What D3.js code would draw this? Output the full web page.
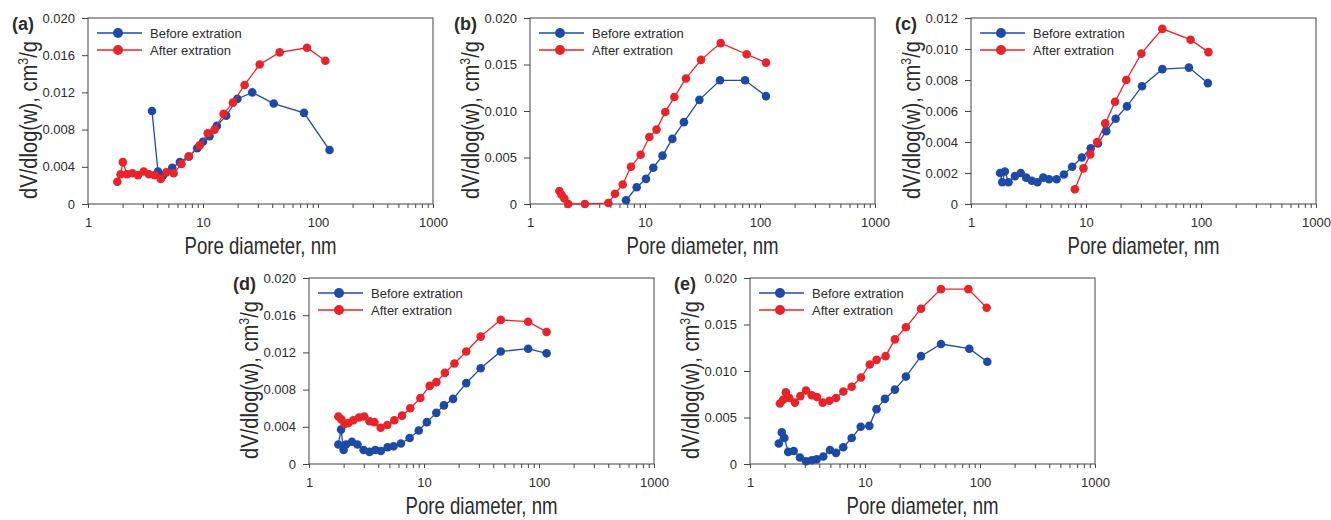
<!DOCTYPE html>
<html>
<head>
<meta charset="utf-8">
<script src="https://cdn.jsdelivr.net/npm/d3@7"></script>
<style>
  body { margin: 0; background: #fff; }
  svg { display: block; font-family: Arial, "Liberation Sans", sans-serif; }
</style>
</head>
<body>
<svg id="chart" width="1331" height="520"></svg>
<script>
// pore diameter (nm) and dV/dlog(w) (cm3/g)
const aBeforeD = [3.6, 4.06, 4.5, 5.4, 6.3, 7.5, 8.9, 10.0, 11.4, 13.2, 15.9, 19.9, 26.8, 41.2, 75.5, 126];
const aBeforeV = [0.0100, 0.0035, 0.0031, 0.0039, 0.0045, 0.0051, 0.0060, 0.0067, 0.0073, 0.0084, 0.0095, 0.0113, 0.0120, 0.0108, 0.0098, 0.0058];
const aAfterD = [1.8, 1.92, 2.01, 2.18, 2.43, 2.72, 3.05, 3.39, 3.8, 4.29, 4.8, 5.55, 6.5, 7.55, 9.35, 11.0, 12.6, 15.1, 18.2, 23.0, 31.1, 46.4, 80.2, 115.8];
const aAfterV = [0.0024, 0.0032, 0.0045, 0.0032, 0.0033, 0.0031, 0.0035, 0.0032, 0.0031, 0.0027, 0.0034, 0.0033, 0.0043, 0.0051, 0.0063, 0.0076, 0.0080, 0.0097, 0.0109, 0.0128, 0.0150, 0.0163, 0.0168, 0.0154];

const bBeforeD = [6.84, 8.47, 10.2, 11.8, 14.2, 17.3, 21.8, 29.7, 44.9, 74.1, 112.7];
const bBeforeV = [0.0004, 0.0018, 0.0027, 0.0039, 0.0052, 0.0070, 0.0088, 0.0112, 0.0133, 0.0133, 0.0116];
const bAfterD = [1.8, 1.88, 1.99, 2.15, 3.0, 4.8, 5.48, 6.4, 7.55, 9.17, 10.9, 12.6, 15.0, 18.0, 22.7, 30.7, 45.5, 76.6, 112.7];
const bAfterV = [0.0014, 0.0010, 0.0006, 0, 0, 0.0001, 0.0011, 0.0021, 0.0040, 0.0053, 0.0072, 0.0080, 0.0099, 0.0115, 0.0135, 0.0155, 0.0173, 0.0161, 0.0152];

const cBeforeD = [1.79, 1.87, 1.97, 2.12, 2.41, 2.71, 3.02, 3.38, 3.78, 4.25, 4.77, 5.55, 6.43, 7.58, 9.2, 11.0, 12.7, 15.0, 18.1, 22.7, 30.7, 46.1, 78.5, 114.7];
const cBeforeV = [0.0020, 0.0014, 0.0021, 0.0014, 0.0018, 0.0020, 0.0017, 0.0015, 0.0014, 0.0017, 0.0016, 0.0016, 0.0019, 0.0024, 0.0030, 0.0036, 0.0039, 0.0047, 0.0055, 0.0063, 0.0076, 0.0087, 0.0088, 0.0078];
const cAfterD = [8.0, 9.5, 10.9, 12.5, 14.7, 17.9, 22.4, 30.3, 46.1, 81.2, 116];
const cAfterV = [0.00095, 0.0023, 0.0032, 0.0040, 0.0052, 0.0066, 0.0080, 0.0097, 0.0113, 0.0106, 0.0098];

const dBeforeD = [1.8, 1.9, 2.0, 2.1, 2.36, 2.64, 2.98, 3.36, 3.77, 4.22, 4.82, 5.44, 6.3, 7.5, 9.0, 10.6, 12.8, 14.9, 17.9, 23.3, 31.1, 46.5, 80.5, 116.4];
const dBeforeV = [0.0021, 0.0037, 0.0015, 0.0021, 0.0024, 0.0021, 0.0015, 0.0013, 0.0015, 0.0014, 0.0018, 0.0019, 0.0022, 0.0028, 0.0036, 0.0045, 0.0055, 0.0063, 0.0070, 0.0087, 0.0103, 0.0121, 0.0124, 0.0119];
const dAfterD = [1.8, 1.91, 2.04, 2.2, 2.43, 2.72, 3.02, 3.36, 3.7, 4.2, 4.8, 5.52, 6.44, 7.6, 9.3, 11.2, 12.8, 15.2, 18.4, 23.3, 31.1, 46.5, 80.5, 116.4];
const dAfterV = [0.0051, 0.0048, 0.0043, 0.0044, 0.0047, 0.0050, 0.0051, 0.0046, 0.0045, 0.0039, 0.0042, 0.0047, 0.0052, 0.0060, 0.0071, 0.0084, 0.0088, 0.0098, 0.0108, 0.0121, 0.0137, 0.0155, 0.0153, 0.0142];

const eBeforeD = [1.78, 1.89, 1.99, 2.15, 2.4, 2.72, 3.07, 3.44, 3.8, 4.34, 4.96, 5.6, 6.47, 7.66, 9.18, 10.9, 12.6, 14.9, 18.2, 22.7, 30.7, 45.8, 80.7, 115.8];
const eBeforeV = [0.0022, 0.0034, 0.0028, 0.0013, 0.0014, 0.0007, 0.0003, 0.0004, 0.0005, 0.0008, 0.0015, 0.0012, 0.0018, 0.0028, 0.0040, 0.0041, 0.0059, 0.0070, 0.0080, 0.0094, 0.0116, 0.0129, 0.0124, 0.0110];
const eAfterD = [1.82, 1.94, 2.05, 2.2, 2.46, 2.74, 3.07, 3.44, 3.82, 4.29, 4.9, 5.6, 6.48, 7.66, 9.23, 11.0, 12.6, 15.1, 18.2, 22.7, 30.7, 45.8, 79.2, 114.3];
const eAfterV = [0.0065, 0.0069, 0.0077, 0.0071, 0.0066, 0.0073, 0.0079, 0.0074, 0.0072, 0.0066, 0.0068, 0.0071, 0.0078, 0.0083, 0.0093, 0.0107, 0.0112, 0.0116, 0.0134, 0.0147, 0.0167, 0.0188, 0.0188, 0.0168];

// axis ticks
const xMajor = [1, 10, 100, 1000];
const yTicks004 = [0, 0.004, 0.008, 0.012, 0.016, 0.020];
const yTicks005 = [0, 0.005, 0.010, 0.015, 0.020];
const yTicks002 = [0, 0.002, 0.004, 0.006, 0.008, 0.010, 0.012];

const seriesNames = ["Before extration", "After extration"];
const colors = ["#1d4aa6", "#e8232a"];

const panels = [
  { label: "(a)", left: 88,  top: 18,  ymax: 0.020, ticks: yTicks004, before: [aBeforeD, aBeforeV], after: [aAfterD, aAfterV] },
  { label: "(b)", left: 530, top: 18,  ymax: 0.020, ticks: yTicks005, before: [bBeforeD, bBeforeV], after: [bAfterD, bAfterV] },
  { label: "(c)", left: 971, top: 18,  ymax: 0.012, ticks: yTicks002, before: [cBeforeD, cBeforeV], after: [cAfterD, cAfterV] },
  { label: "(d)", left: 309, top: 278, ymax: 0.020, ticks: yTicks004, before: [dBeforeD, dBeforeV], after: [dAfterD, dAfterV] },
  { label: "(e)", left: 750, top: 278, ymax: 0.020, ticks: yTicks005, before: [eBeforeD, eBeforeV], after: [eAfterD, eAfterV] }
];

const W = 345, H = 186;
const textColor = "#2b2b2b";
const svg = d3.select("#chart");

// minor + major tick positions for the log axis
const xTickVals = [];
for (let dec = 1; dec < 1000; dec *= 10) {
  for (let k = 1; k < 10; k++) xTickVals.push(dec * k);
}
xTickVals.push(1000);

panels.forEach(p => {
  const g = svg.append("g").attr("transform", `translate(${p.left},${p.top})`);

  const x = d3.scaleLog().domain([1, 1000]).range([0, W]);
  const y = d3.scaleLinear().domain([0, p.ymax]).range([H, 0]);

  // x axis
  const xa = g.append("g")
    .attr("transform", `translate(0,${H})`)
    .call(d3.axisBottom(x).tickValues(xTickVals).tickSize(4).tickSizeOuter(0).tickPadding(10)
      .tickFormat(d => xMajor.includes(d) ? d : ""));
  xa.select(".domain").remove();

  // y axis
  const ya = g.append("g")
    .call(d3.axisLeft(y).tickValues(p.ticks).tickSize(6).tickSizeOuter(0).tickPadding(7)
      .tickFormat(d => d === 0 ? "0" : d3.format(".3f")(d)));
  ya.select(".domain").remove();

  [xa, ya].forEach(a => {
    a.attr("font-size", 13).attr("font-family", null);
    a.selectAll("line").attr("stroke", "#444");
    a.selectAll("text").attr("fill", textColor);
  });

  // frame
  g.append("rect")
    .attr("width", W).attr("height", H)
    .attr("fill", "none").attr("stroke", "#444").attr("stroke-width", 1);

  // data lines and markers
  const line = d3.line().x(d => x(d[0])).y(d => y(d[1]));
  [p.before, p.after].forEach((s, i) => {
    const pts = s[0].map((d, j) => [d, s[1][j]]);
    g.append("path").datum(pts)
      .attr("d", line).attr("fill", "none")
      .attr("stroke", colors[i]).attr("stroke-width", 1.3);
    g.selectAll(null).data(pts).enter().append("circle")
      .attr("cx", d => x(d[0])).attr("cy", d => y(d[1]))
      .attr("r", 4.3).attr("fill", colors[i]);
  });

  // legend
  seriesNames.forEach((name, i) => {
    const ly = 15 + i * 17;
    g.append("line")
      .attr("x1", 9).attr("x2", 54).attr("y1", ly).attr("y2", ly)
      .attr("stroke", colors[i]).attr("stroke-width", 1.3);
    g.append("circle").attr("cx", 30).attr("cy", ly).attr("r", 5).attr("fill", colors[i]);
    g.append("text").attr("x", 62).attr("y", ly + 5)
      .attr("font-size", 13).attr("fill", textColor).text(name);
  });

  // panel label
  g.append("text").attr("x", -76).attr("y", 12)
    .attr("font-size", 18).attr("font-weight", "bold").attr("fill", textColor)
    .text(p.label);

  // x title
  g.append("text").attr("x", W / 2).attr("y", H + 50)
    .attr("text-anchor", "middle").attr("font-size", 24).attr("fill", textColor)
    .attr("textLength", 152).attr("lengthAdjust", "spacingAndGlyphs")
    .text("Pore diameter, nm");

  // y title
  const yt = g.append("text")
    .attr("transform", `translate(-51,${H / 2 + 9}) rotate(-90)`)
    .attr("text-anchor", "middle").attr("font-size", 23).attr("fill", textColor)
    .attr("textLength", 158).attr("lengthAdjust", "spacingAndGlyphs");
  yt.append("tspan").text("dV/dlog(w), cm");
  yt.append("tspan").attr("font-size", 14).attr("dy", -9).text("3");
  yt.append("tspan").attr("dy", 9).text("/g");
});
</script>
</body>
</html>
